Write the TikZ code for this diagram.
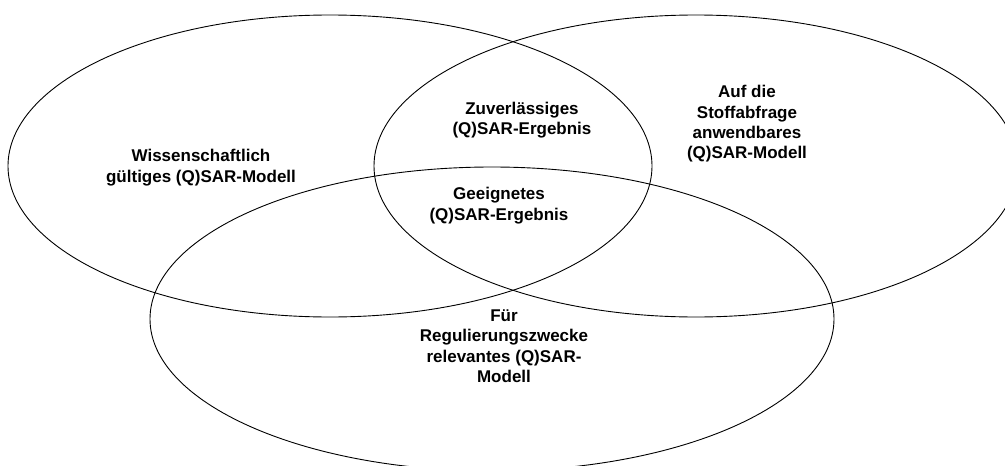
\documentclass[tikz,border=0pt]{standalone}
\usepackage{fontspec}
\setmainfont{Liberation Sans}
\begin{document}
\begin{tikzpicture}[x=1pt,y=-1pt,
  setline/.style={draw=black,line width=0.9pt},
  lbl/.style={align=center,inner sep=0pt,font=\fontsize{17}{20.4}\selectfont\bfseries}]
\useasboundingbox (0,0) rectangle (1005,466);
\begin{scope}
\clip (0,0) rectangle (1005,466);
\draw[setline] (330,166) ellipse [x radius=322, y radius=151];
\draw[setline] (696,166) ellipse [x radius=322, y radius=151];
\draw[setline] (492,319) ellipse [x radius=342, y radius=152];
\end{scope}
\node[lbl] (wiss) at (201,167.6) {Wissenschaftlich\\gültiges (Q)SAR-Modell};
\node[lbl] (zuv) at (522,120) {Zuverlässiges\\(Q)SAR-Ergebnis};
\node[lbl] (gee) at (499,205.5) {Geeignetes\\(Q)SAR-Ergebnis};
\node[lbl] (auf) at (747,124) {Auf die\\Stoffabfrage\\anwendbares\\(Q)SAR-Modell};
\node[lbl] (fuer) at (504,346.3) {Für\\Regulierungszwecke\\relevantes (Q)SAR-\\Modell};
\end{tikzpicture}
\end{document}
